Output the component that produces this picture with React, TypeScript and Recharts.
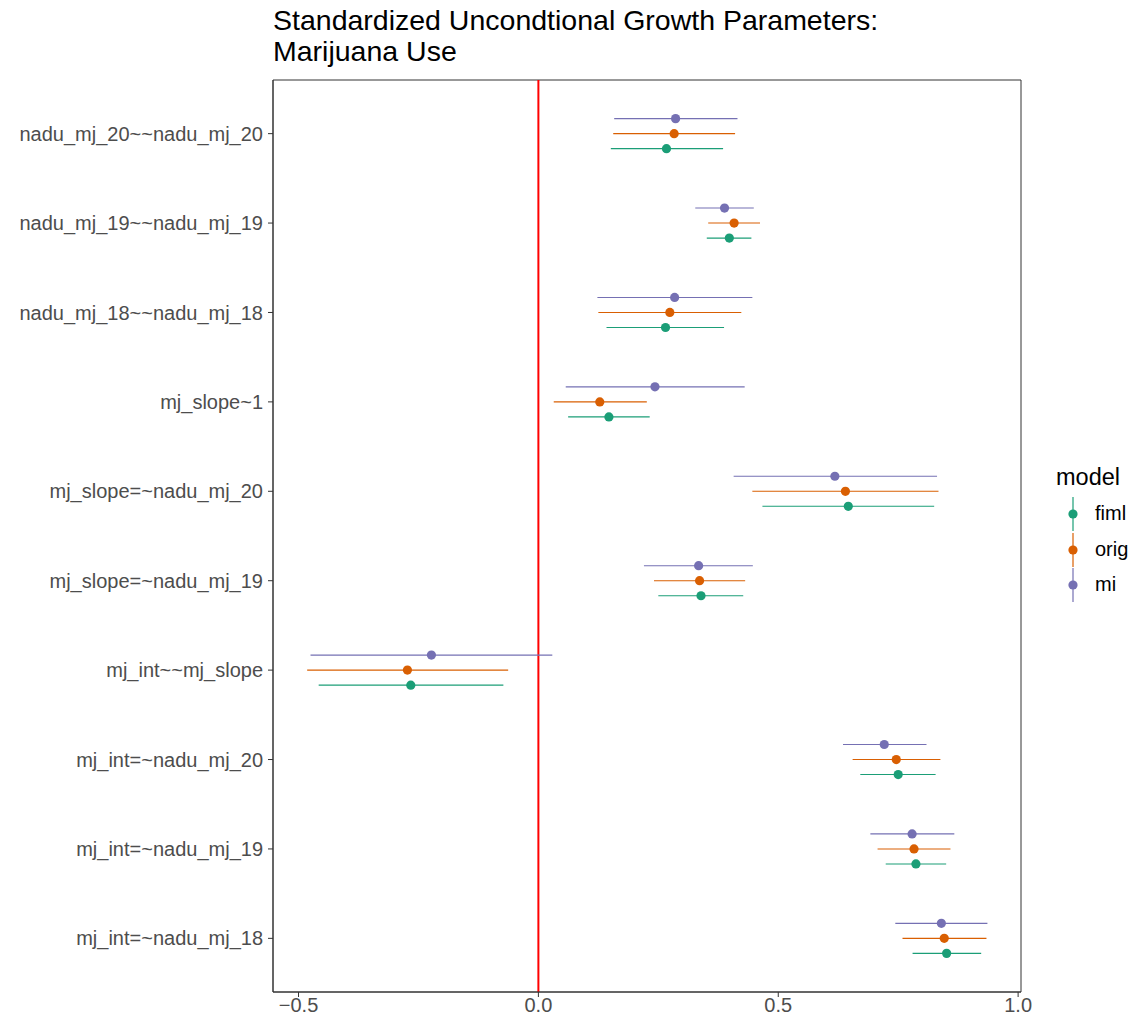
import React from 'react';
import {
  ScatterChart,
  Scatter,
  XAxis,
  YAxis,
  ErrorBar,
  ReferenceLine,
  ReferenceArea,
} from 'recharts';

/* Standardized unconditional growth parameters — pointrange per model */

const PARAMS = [
  'nadu_mj_20~~nadu_mj_20',
  'nadu_mj_19~~nadu_mj_19',
  'nadu_mj_18~~nadu_mj_18',
  'mj_slope~1',
  'mj_slope=~nadu_mj_20',
  'mj_slope=~nadu_mj_19',
  'mj_int~~mj_slope',
  'mj_int=~nadu_mj_20',
  'mj_int=~nadu_mj_19',
  'mj_int=~nadu_mj_18',
];

const MI_EST = [0.286, 0.388, 0.284, 0.243, 0.618, 0.334, -0.223, 0.721, 0.779, 0.840];
const MI_LO = [0.158, 0.327, 0.123, 0.057, 0.407, 0.220, -0.475, 0.635, 0.692, 0.744];
const MI_HI = [0.415, 0.449, 0.446, 0.430, 0.831, 0.447, 0.029, 0.809, 0.867, 0.936];

const ORIG_EST = [0.283, 0.408, 0.274, 0.128, 0.640, 0.336, -0.273, 0.746, 0.783, 0.846];
const ORIG_LO = [0.156, 0.354, 0.125, 0.032, 0.446, 0.241, -0.482, 0.655, 0.707, 0.759];
const ORIG_HI = [0.410, 0.462, 0.423, 0.226, 0.834, 0.431, -0.063, 0.838, 0.859, 0.934];

const FIML_EST = [0.267, 0.398, 0.265, 0.147, 0.646, 0.339, -0.266, 0.750, 0.787, 0.851];
const FIML_LO = [0.151, 0.351, 0.142, 0.062, 0.467, 0.250, -0.458, 0.671, 0.724, 0.780];
const FIML_HI = [0.385, 0.444, 0.387, 0.232, 0.825, 0.427, -0.073, 0.828, 0.850, 0.923];

const X_TICKS = [-0.5, 0, 0.5, 1];
const X_DOMAIN: [number, number] = [-0.5532, 1.006];
const Y_DOMAIN: [number, number] = [0.4, 10.6];

const MODELS = [
  { key: 'fiml', color: '#1B9E77', est: FIML_EST, lo: FIML_LO, hi: FIML_HI, offset: 0.168 },
  { key: 'orig', color: '#D95F02', est: ORIG_EST, lo: ORIG_LO, hi: ORIG_HI, offset: 0 },
  { key: 'mi', color: '#7570B3', est: MI_EST, lo: MI_LO, hi: MI_HI, offset: -0.168 },
];

const FONT = '"Liberation Sans", Arial, Helvetica, sans-serif';

const buildRows = (m: (typeof MODELS)[number]) =>
  PARAMS.map((p, i) => ({
    param: p,
    y: i + 1 + m.offset,
    est: m.est[i],
    err: [m.est[i] - m.lo[i], m.hi[i] - m.est[i]],
  }));

const fmtX = (v: number) => v.toFixed(1).replace('-', '\u2212');

const Legend = () => (
  <div style={{ position: 'absolute', left: 1056, top: 463, fontFamily: FONT }}>
    <div style={{ fontSize: 23.5, color: '#000', lineHeight: '28px' }}>model</div>
    {MODELS.map((m, i) => (
      <div key={m.key} style={{ position: 'absolute', left: 0, top: 34 + i * 35.5, width: 80, height: 34 }}>
        <svg width={34} height={34} style={{ position: 'absolute', left: 0, top: 0 }}>
          <line x1={17} x2={17} y1={0} y2={34} stroke={m.color} strokeWidth={2} strokeOpacity={0.6} />
          <circle cx={17} cy={17} r={4.6} fill={m.color} />
        </svg>
        <div style={{ position: 'absolute', left: 39, top: 5, fontSize: 20, color: '#000', lineHeight: '22px' }}>
          {m.key}
        </div>
      </div>
    ))}
  </div>
);

export default function App() {
  return (
    <div style={{ position: 'absolute', left: 0, top: 0, width: 1131, height: 1023, background: '#fff', fontFamily: FONT }}>
      <div
        style={{
          position: 'absolute',
          left: 273,
          top: 5,
          fontSize: 28.5,
          lineHeight: '31px',
          color: '#000',
          whiteSpace: 'pre',
        }}
      >
        {'Standardized Uncondtional Growth Parameters:\nMarijuana Use'}
      </div>

      <ScatterChart width={1131} height={1023} margin={{ top: 80, right: 110, bottom: 0, left: 0 }}>
        <XAxis
          type="number"
          dataKey="est"
          domain={X_DOMAIN}
          ticks={X_TICKS}
          allowDataOverflow
          tickFormatter={fmtX}
          height={31}
          tickSize={5}
          tickMargin={1}
          tick={{ fill: '#4D4D4D', fontSize: 20, fontFamily: FONT }}
          tickLine={{ stroke: '#333333' }}
          axisLine={{ stroke: '#333333' }}
        />
        <YAxis
          type="number"
          dataKey="y"
          domain={Y_DOMAIN}
          reversed
          allowDataOverflow
          ticks={PARAMS.map((_, i) => i + 1)}
          interval={0}
          tickFormatter={(v: number) => PARAMS[Math.round(v) - 1] ?? ''}
          width={273}
          tickSize={5}
          tickMargin={5}
          tick={{ fill: '#4D4D4D', fontSize: 20, fontFamily: FONT }}
          tickLine={{ stroke: '#333333' }}
          axisLine={{ stroke: '#333333' }}
        />

        <ReferenceArea
          x1={X_DOMAIN[0]}
          x2={X_DOMAIN[1]}
          y1={Y_DOMAIN[0]}
          y2={Y_DOMAIN[1]}
          fill="none"
          stroke="#333333"
          strokeWidth={1}
          ifOverflow="visible"
        />
        <ReferenceLine x={0} stroke="#FF0000" strokeWidth={2} />

        {MODELS.map((m) => (
          <Scatter
            key={m.key}
            name={m.key}
            data={buildRows(m)}
            isAnimationActive={false}
            shape={(props: any) => <circle cx={props.cx} cy={props.cy} r={4.6} fill={m.color} />}
          >
            <ErrorBar dataKey="err" direction="x" width={0} stroke={m.color} strokeWidth={1.1} isAnimationActive={false} />
          </Scatter>
        ))}
      </ScatterChart>

      <Legend />
    </div>
  );
}
